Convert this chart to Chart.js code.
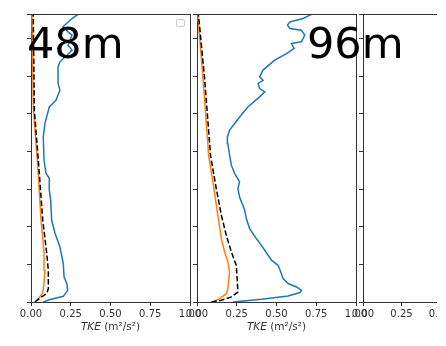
<!DOCTYPE html>
<html>
<head>
<meta charset="utf-8">
<script src="https://cdn.jsdelivr.net/npm/chart.js@4.4.1/dist/chart.umd.min.js"></script>
<style>
body { margin: 0; background: #fff; }
#fig { position: relative; width: 446px; height: 346px; overflow: hidden; background: #fff; }
.wrap { position: absolute; top: 0; left: 0; height: 346px; overflow: hidden; }
canvas { position: absolute; top: 0; left: 0; }
</style>
</head>
<body>
<div id="fig">
  <div class="wrap" style="width:446px"><canvas id="c48" width="446" height="346"></canvas></div>
  <div class="wrap" style="width:446px"><canvas id="c96" width="446" height="346"></canvas></div>
  <div class="wrap" style="width:437px"><canvas id="c3" width="530" height="346"></canvas></div>
</div>
<script>
// heights (m) and TKE values (m²/s²)
const obs48H = [0, 13, 30, 62, 98, 133, 204, 292, 365, 434, 540, 594, 657, 684, 753, 877, 950, 1036, 1072, 1125, 1162, 1249, 1276, 1311, 1338, 1364, 1391, 1418, 1435, 1462, 1506, 1528];
const obs48V = [0.077, 0.12, 0.203, 0.231, 0.225, 0.208, 0.203, 0.182, 0.151, 0.130, 0.124, 0.115, 0.115, 0.094, 0.082, 0.077, 0.088, 0.115, 0.157, 0.182, 0.170, 0.170, 0.182, 0.226, 0.258, 0.233, 0.245, 0.258, 0.233, 0.201, 0.258, 0.296];
const mod48H = [0, 18, 41, 62, 167, 258, 365, 434, 753, 1020, 1528];
const mod48V = [0.025, 0.046, 0.067, 0.077, 0.088, 0.082, 0.071, 0.063, 0.040, 0.015, 0.006];
const les48H = [0, 27, 45, 71, 168, 258, 365, 434, 753, 1020, 1528];
const les48V = [0.025, 0.067, 0.099, 0.109, 0.109, 0.099, 0.084, 0.074, 0.046, 0.021, 0.014];

const obs96H = [0, 14, 32, 50, 62, 80, 98, 124, 159, 195, 222, 275, 301, 337, 390, 443, 487, 558, 603, 638, 682, 727, 780, 842, 877, 913, 948, 983, 1036, 1090, 1116, 1134, 1161, 1178, 1196, 1232, 1285, 1320, 1347, 1373, 1382, 1418, 1444, 1453, 1471, 1488, 1506, 1528];
const obs96V = [0.226, 0.405, 0.573, 0.647, 0.657, 0.626, 0.573, 0.541, 0.527, 0.510, 0.468, 0.426, 0.405, 0.373, 0.331, 0.310, 0.300, 0.268, 0.257, 0.268, 0.237, 0.216, 0.205, 0.194, 0.191, 0.205, 0.237, 0.268, 0.320, 0.394, 0.426, 0.394, 0.384, 0.415, 0.394, 0.415, 0.489, 0.563, 0.611, 0.594, 0.657, 0.678, 0.657, 0.584, 0.569, 0.584, 0.667, 0.720];
const mod96H = [0, 18, 44, 71, 159, 213, 266, 337, 462, 638, 780, 842, 1196, 1528];
const mod96V = [0.10, 0.142, 0.184, 0.194, 0.205, 0.194, 0.174, 0.153, 0.131, 0.10, 0.073, 0.068, 0.037, 0.005];
const les96H = [0, 9, 27, 53, 106, 195, 266, 355, 462, 603, 780, 1196, 1528];
const les96V = [0.09, 0.153, 0.216, 0.257, 0.254, 0.247, 0.216, 0.184, 0.153, 0.121, 0.085, 0.047, 0.009];

const xTicks = [0, 0.25, 0.5, 0.75, 1.0];
const labels = ['48m', '96m'];

const AX = '#333';
const FONT = 'DejaVu Sans';

const pts = (h, v) => h.map((y, i) => ({ x: v[i], y: y }));

function line(h, v, color, dash, order) {
  return {
    data: pts(h, v),
    showLine: true,
    borderColor: color,
    borderWidth: 1.5,
    borderDash: dash,
    pointRadius: 0,
    fill: false,
    order: order
  };
}

function makePanel(id, left, right, canvasW, datasets, deco) {
  const ctx = document.getElementById(id).getContext('2d');
  return new Chart(ctx, {
    type: 'scatter',
    data: { datasets: datasets },
    options: {
      responsive: false,
      animation: false,
      layout: { padding: { left: left - 4, right: canvasW - right, top: 14, bottom: 346 - 302 - 40 } },
      plugins: { legend: { display: false }, tooltip: { enabled: false } },
      scales: {
        x: {
          type: 'linear', min: 0, max: 1,
          afterBuildTicks: s => { s.ticks = xTicks.map(v => ({ value: v })); },
          afterFit: s => { s.height = 40; },
          grid: { drawOnChartArea: false, tickLength: 4, color: AX },
          border: { color: AX, width: 1 },
          ticks: { autoSkip: false, maxRotation: 0, padding: 2, color: AX,
                   font: { family: FONT, size: 10 }, callback: v => v.toFixed(2) }
        },
        y: {
          type: 'linear', min: 0, max: 1530,
          ticks: { display: false, stepSize: 200 },
          afterFit: s => { s.width = 4; },
          grid: { drawOnChartArea: false, tickLength: 4, color: AX },
          border: { color: AX, width: 1 }
        }
      }
    },
    plugins: [{
      id: 'deco',
      afterDraw(chart) {
        const c = chart.ctx, a = chart.chartArea;
        c.save();
        c.strokeStyle = AX; c.lineWidth = 1;
        c.beginPath();
        c.moveTo(a.left, a.top + 0.5); c.lineTo(a.right + 1, a.top + 0.5);
        c.moveTo(a.right + 0.5, a.top); c.lineTo(a.right + 0.5, a.bottom);
        c.stroke();
        if (deco.title) {
          const cx = (a.left + a.right) / 2, y = 327;
          c.fillStyle = AX; c.textBaseline = 'middle';
          c.font = 'italic 10.5px "' + FONT + '"';
          const w1 = c.measureText('TKE').width;
          c.font = '10.5px "' + FONT + '"';
          const w2 = c.measureText(' (m²/s²)').width;
          const x0 = cx - (w1 + w2) / 2;
          c.textAlign = 'left';
          c.font = 'italic 10.5px "' + FONT + '"';
          c.fillText('TKE', x0, y);
          c.font = '10.5px "' + FONT + '"';
          c.fillText(' (m²/s²)', x0 + w1, y);
        }
        if (deco.legend) {
          c.fillStyle = '#fff'; c.strokeStyle = '#ccc';
          c.beginPath();
          c.roundRect(176.5, 19.5, 8, 7, 1.5);
          c.fill(); c.stroke();
        }
        if (deco.text) {
          c.fillStyle = '#000'; c.textAlign = 'left'; c.textBaseline = 'alphabetic';
          c.font = '43px "' + FONT + '"';
          c.fillText(deco.text, deco.tx, 58);
        }
        c.restore();
      }
    }]
  });
}

makePanel('c48', 31, 190, 446, [
  line(obs48H, obs48V, '#1f77b4', [], 2),
  line(mod48H, mod48V, '#ff7f0e', [], 1),
  line(les48H, les48V, '#000', [5.5, 2.4], 0)
], { title: true, legend: true, text: labels[0], tx: 27 });

makePanel('c96', 197, 356, 446, [
  line(obs96H, obs96V, '#1f77b4', [], 2),
  line(mod96H, mod96V, '#ff7f0e', [], 1),
  line(les96H, les96V, '#000', [5.5, 2.4], 0)
], { title: true, legend: false, text: labels[1], tx: 307 });

makePanel('c3', 363, 522, 530, [], { title: false, legend: false });
</script>
</body>
</html>
